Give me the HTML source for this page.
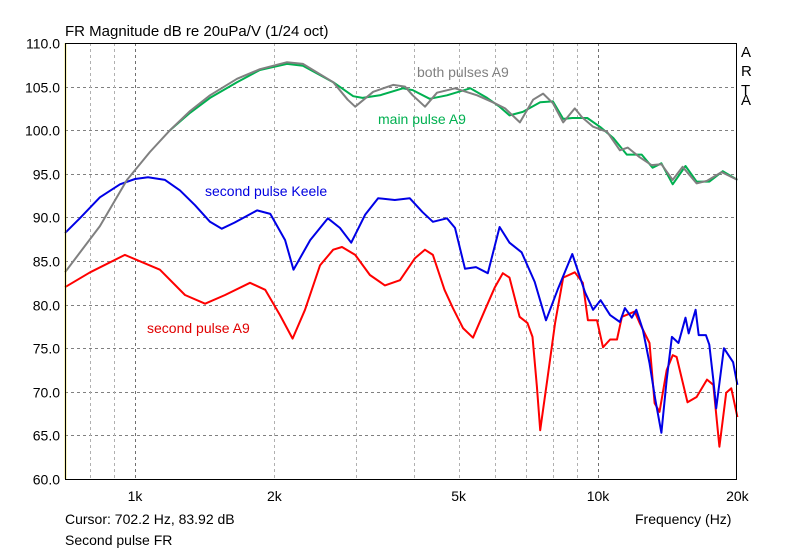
<!DOCTYPE html>
<html><head><meta charset="utf-8"><style>
body{margin:0;background:#fff;}
svg text{font-family:"Liberation Sans",sans-serif;}
</style></head><body>
<svg id="chart" width="800" height="551" xmlns="http://www.w3.org/2000/svg">
<rect width="800" height="551" fill="#fff"/>
<text x="65" y="36" font-size="15" fill="#000">FR Magnitude dB re 20uPa/V (1/24 oct)</text>
<g id="grid"></g>
<g id="yticks"></g>
<g id="xticks"></g>
<g id="series"></g>
<line x1="65.5" y1="43" x2="65.5" y2="479" stroke="#e0d000" stroke-width="1.5"/>
<rect x="65.5" y="43.5" width="671" height="436" fill="none" stroke="#000" stroke-width="1"/>
<text x="417" y="77" font-size="14" fill="#808080">both pulses A9</text>
<text x="378" y="124" font-size="14" fill="#00b050">main pulse A9</text>
<text x="205" y="196" font-size="14" fill="#0000e0">second pulse Keele</text>
<text x="147" y="333" font-size="14" fill="#e00000">second pulse A9</text>
<g font-size="15" fill="#000">
<text x="741" y="57">A</text><text x="741" y="76">R</text><text x="741" y="95">T</text><text x="741" y="105" dy="0">A</text>
</g>
<text x="65" y="524" font-size="14" fill="#000">Cursor: 702.2 Hz, 83.92 dB</text>
<text x="65" y="545" font-size="14" fill="#000">Second pulse FR</text>
<text x="635" y="524" font-size="14" fill="#000">Frequency (Hz)</text>
</svg>
<script>
const yTicks=[60,65,70,75,80,85,90,95,100,105,110];
const xMajorTicks=[1000,2000,5000,10000,20000];
const xMajorLabels=["1k","2k","5k","10k","20k"];
const xGridFreqs=[800,900,1000,2000,3000,4000,5000,6000,7000,8000,9000,10000];
const blueF=[706,760,840,928,1000,1067,1161,1251,1348,1452,1540,1640,1835,1960,2110,2200,2390,2610,2770,2930,3140,3350,3640,3920,4180,4400,4720,4910,5160,5450,5780,6130,6440,6840,7300,7720,8180,8800,9380,9760,10130,10620,11150,11430,11830,12100,12500,12920,13300,13710,14070,14440,14920,15450,15700,16250,16500,17100,17390,17740,18000,18700,19580,20000];
const blueDb=[88.2,89.9,92.3,93.8,94.4,94.6,94.3,93.1,91.4,89.5,88.7,89.4,90.8,90.4,87.4,84.0,87.4,89.9,88.8,87.1,90.3,92.2,92.0,92.2,90.6,89.5,89.9,88.8,84.1,84.3,83.6,88.9,87.1,86.0,82.6,78.2,81.7,85.8,81.4,79.4,80.5,78.8,78.0,79.6,78.5,79.4,77.1,73.3,69.1,65.3,71.4,76.3,75.6,78.5,76.7,79.4,76.5,76.5,75.4,71.4,68.1,75.0,73.4,70.8];
const redF=[706,800,951,1132,1282,1417,1565,1772,1911,2057,2190,2329,2509,2680,2800,2990,3217,3466,3735,4020,4229,4400,4660,4860,5110,5370,5700,5990,6230,6440,6770,7040,7220,7380,7500,7770,8080,8410,8910,9270,9510,9950,10250,10620,10990,11260,12000,12300,12920,13250,13580,14070,14500,14780,15610,16330,17200,17740,18290,18920,19400,20000];
const redDb=[82.0,83.7,85.7,84.0,81.1,80.1,81.1,82.5,81.7,78.8,76.1,79.4,84.5,86.3,86.6,85.7,83.4,82.2,82.8,85.3,86.3,85.7,81.7,79.6,77.3,76.2,79.4,82.0,83.6,83.1,78.6,77.9,76.3,70.6,65.6,71.4,77.9,83.1,83.7,82.5,78.2,78.2,75.1,76.0,76.0,78.6,79.2,77.9,75.6,68.7,67.7,72.5,74.2,74.0,68.8,69.4,71.4,70.8,63.7,69.9,70.4,67.1];
const grayF=[706,840,961,1077,1190,1315,1452,1661,1861,2130,2305,2680,2880,2990,3270,3610,3830,3980,4230,4490,4910,5480,5930,6300,6780,7240,7610,7990,8410,8910,9230,9760,10470,11150,11600,12300,13050,13710,14500,15230,16330,17200,18490,20000];
const grayDb=[83.7,89.0,94.3,97.5,100.0,102.2,104.0,105.9,107.0,107.8,107.6,105.5,103.5,102.7,104.4,105.2,105.0,104.0,102.7,104.3,104.8,104.0,103.2,102.5,100.9,103.5,104.2,103.1,100.9,102.5,101.5,100.4,99.8,97.7,98.0,96.9,96.0,96.1,94.3,95.8,93.9,94.2,95.2,94.3];
const greenF=[1190,1315,1452,1661,1861,2130,2305,2680,2960,3100,3380,3790,3980,4330,4720,5300,5760,6130,6440,6880,7500,7990,8410,8800,9480,10150,10790,11540,12430,13120,13710,14500,15450,16330,17400,18600,20000];
const greenDb=[100.0,102.0,103.7,105.5,106.9,107.6,107.4,105.5,103.9,103.7,104.0,104.8,104.6,103.6,104.0,104.8,103.7,102.7,101.7,102.1,103.2,103.3,101.3,101.4,101.4,100.3,99.1,97.2,97.2,95.7,96.2,93.8,95.9,94.1,94.1,95.3,94.3];

const NS="http://www.w3.org/2000/svg";
const X0=135,DEC=463,Y0=43,PXDB=8.72,XL=65,XR=737;
function xs(f){return X0+DEC*Math.log10(f/1000);}
function ys(d){return Y0+(110-d)*PXDB;}
function mk(tag,attrs,parent){const e=document.createElementNS(NS,tag);for(const k in attrs)e.setAttribute(k,attrs[k]);parent.appendChild(e);return e;}
const grid=document.getElementById('grid'),yt=document.getElementById('yticks'),xt=document.getElementById('xticks'),ser=document.getElementById('series');
yTicks.forEach(v=>{
 const y=Math.round(ys(v))+0.5;
 if(v>60&&v<110){const l=mk('line',{x1:XL,x2:XR,y1:y,y2:y,stroke:'#808080','stroke-dasharray':'3,3'},grid);
 
 }
 const t=mk('text',{x:60,y:y+5,'text-anchor':'end','font-size':14,fill:'#000'},yt);
 t.textContent=v.toFixed(1);
 
 
});
xGridFreqs.forEach(f=>{
 const x=Math.round(xs(f))+0.5;
 const major=(f===1000||f===10000);
 const l=mk('line',{x1:x,x2:x,y1:Y0,y2:479,stroke:major?'#707070':'#b0b0b0','stroke-dasharray':'3,3'},grid);
 
 
});
xMajorTicks.forEach((f,i)=>{
 const t=mk('text',{x:xs(f),y:501,'text-anchor':'middle','font-size':14,fill:'#000'},xt);
 t.textContent=xMajorLabels[i];
 
 
});
function line(F,D,color,name){
 const p=F.map((f,i)=>(i?'L':'M')+xs(f).toFixed(1)+','+ys(D[i]).toFixed(1)).join('');
 const e=mk('path',{d:p,fill:'none',stroke:color,'stroke-width':2,'stroke-linejoin':'round'},ser);
 
 
}
line(redF,redDb,'#ff0000','series-second-pulse-a9');
line(blueF,blueDb,'#0000e6','series-second-pulse-keele');
line(greenF,greenDb,'#00b050','series-main-pulse-a9');
line(grayF,grayDb,'#808080','series-both-pulses-a9');
</script>
</body></html>
